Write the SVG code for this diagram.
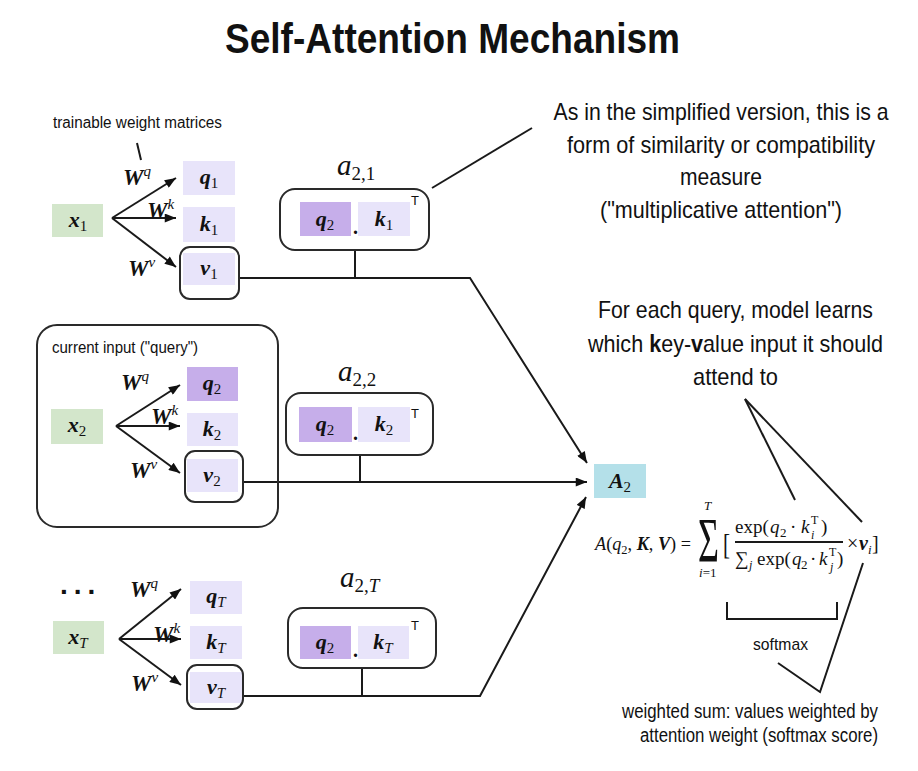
<svg xmlns="http://www.w3.org/2000/svg" width="918" height="771" viewBox="0 0 918 771">
<defs>
<style>
.ln{stroke:#1a1a1a;stroke-width:2;fill:none}
.ob{fill:none;stroke:#2a2a2a;stroke-width:2}
.gx{fill:#d3e6cb}
.lv{fill:#e8e4fa}
.pq{fill:#c6aeea}
.bl{fill:#b4e0e9}
.m{font-family:"Liberation Serif","Times New Roman",serif;fill:#111}
.bi{font-weight:bold;font-style:italic}
.it{font-style:italic}
.s{font-family:"Liberation Sans",Arial,sans-serif;fill:#111}
.v{font-size:22px}
.w{font-size:23px}
.al{font-size:29px}
</style>
<marker id="ah" viewBox="0 0 10 8" refX="10" refY="4" markerWidth="12" markerHeight="9" markerUnits="userSpaceOnUse" orient="auto">
<path d="M0,0 L10,4 L0,8 Z" fill="#111"/>
</marker>
</defs>
<rect width="918" height="771" fill="#fff"/>

<g id="title">
<text class="s" x="452.5" y="53" font-size="43" font-weight="bold" text-anchor="middle" textLength="455" lengthAdjust="spacingAndGlyphs">Self-Attention Mechanism</text>
</g>

<g id="connectors">
<line class="ln" x1="112" y1="218" x2="176" y2="178" marker-end="url(#ah)"/>
<line class="ln" x1="112" y1="218" x2="176" y2="218" marker-end="url(#ah)"/>
<line class="ln" x1="112" y1="218" x2="176" y2="267" marker-end="url(#ah)"/>
<line class="ln" x1="116" y1="426" x2="180" y2="385" marker-end="url(#ah)"/>
<line class="ln" x1="116" y1="426" x2="180" y2="426" marker-end="url(#ah)"/>
<line class="ln" x1="116" y1="426" x2="180" y2="473" marker-end="url(#ah)"/>
<line class="ln" x1="119" y1="639" x2="181" y2="589" marker-end="url(#ah)"/>
<line class="ln" x1="119" y1="639" x2="181" y2="639" marker-end="url(#ah)"/>
<line class="ln" x1="119" y1="639" x2="181" y2="685" marker-end="url(#ah)"/>
<line class="ln" x1="355" y1="250" x2="355" y2="278"/>
<line class="ln" x1="360" y1="455" x2="360" y2="482"/>
<line class="ln" x1="362" y1="668" x2="362" y2="696"/>
<polyline class="ln" points="239,278 470,278 587,463" marker-end="url(#ah)"/>
<line class="ln" x1="243" y1="482" x2="587" y2="482" marker-end="url(#ah)"/>
<polyline class="ln" points="243,696 480,696 586,497" marker-end="url(#ah)"/>
<line class="ln" x1="137" y1="143" x2="141" y2="160" stroke-width="1.6"/>
<line class="ln" x1="432" y1="188" x2="532" y2="128"/>
<line class="ln" x1="745" y1="399" x2="795" y2="500"/>
<line class="ln" x1="745" y1="399" x2="862" y2="522"/>
<polyline class="ln" points="727,602 727,619 837,619 837,602"/>
<polyline class="ln" points="863,563 820,692 778,663"/>
</g>

<g id="note-trainable">
<text class="s" x="53" y="128" font-size="16" textLength="169" lengthAdjust="spacingAndGlyphs">trainable weight matrices</text>
</g>

<!-- Block 1 -->
<g id="x1">
<rect class="gx" x="52" y="204" width="51" height="33"/>
<text class="m v" x="78" y="227" text-anchor="middle"><tspan class="bi">x</tspan><tspan font-size="15" dy="4">1</tspan></text>
</g>
<g id="w1">
<text class="m w" x="123" y="185"><tspan class="bi">W</tspan><tspan class="it" font-size="15" dy="-9">q</tspan></text>
<text class="m w" x="147" y="218"><tspan class="bi">W</tspan><tspan class="it" font-size="15" dy="-9">k</tspan></text>
<text class="m w" x="128" y="276"><tspan class="bi">W</tspan><tspan class="it" font-size="15" dy="-9">v</tspan></text>
</g>
<g id="q1">
<rect class="lv" x="183" y="161" width="52" height="34"/>
<text class="m v" x="209" y="184" text-anchor="middle"><tspan class="bi">q</tspan><tspan font-size="15" dy="4">1</tspan></text>
</g>
<g id="k1">
<rect class="lv" x="183" y="207" width="52" height="35"/>
<text class="m v" x="209" y="231" text-anchor="middle"><tspan class="bi">k</tspan><tspan font-size="15" dy="4">1</tspan></text>
</g>
<g id="v1">
<rect class="lv" x="183" y="253" width="52" height="32"/>
<rect class="ob" x="180" y="247" width="59" height="52" rx="10"/>
<text class="m v" x="209" y="275" text-anchor="middle"><tspan class="bi">v</tspan><tspan font-size="15" dy="4">1</tspan></text>
</g>
<g id="a21">
<text class="m al" x="337" y="175"><tspan class="it">a</tspan><tspan font-size="19" dy="5">2,1</tspan></text>
<rect class="ob" x="280" y="189" width="149" height="61" rx="15"/>
<rect class="pq" x="300" y="202" width="51" height="34"/>
<text class="m v" x="325" y="226" text-anchor="middle"><tspan class="bi">q</tspan><tspan font-size="15" dy="4">2</tspan></text>
<text class="m" x="353" y="234" font-size="20" font-weight="bold">.</text>
<rect class="lv" x="358" y="202" width="52" height="34"/>
<text class="m v" x="384" y="226" text-anchor="middle"><tspan class="bi">k</tspan><tspan font-size="15" dy="4">1</tspan></text>
<text class="s" x="411" y="205" font-size="13">T</text>
</g>

<!-- Block 2 -->
<g id="query-frame">
<rect class="ob" x="37" y="325" width="241" height="202" rx="20"/>
<text class="s" x="52" y="353" font-size="16" textLength="146" lengthAdjust="spacingAndGlyphs">current input ("query")</text>
</g>
<g id="x2">
<rect class="gx" x="51" y="409" width="52" height="35"/>
<text class="m v" x="77" y="432" text-anchor="middle"><tspan class="bi">x</tspan><tspan font-size="15" dy="4">2</tspan></text>
</g>
<g id="w2">
<text class="m w" x="121" y="390"><tspan class="bi">W</tspan><tspan class="it" font-size="15" dy="-9">q</tspan></text>
<text class="m w" x="151" y="424"><tspan class="bi">W</tspan><tspan class="it" font-size="15" dy="-9">k</tspan></text>
<text class="m w" x="130" y="478"><tspan class="bi">W</tspan><tspan class="it" font-size="15" dy="-9">v</tspan></text>
</g>
<g id="q2">
<rect class="pq" x="187" y="367" width="51" height="34"/>
<text class="m v" x="212" y="390" text-anchor="middle"><tspan class="bi">q</tspan><tspan font-size="15" dy="4">2</tspan></text>
</g>
<g id="k2">
<rect class="lv" x="187" y="413" width="51" height="33"/>
<text class="m v" x="212" y="436" text-anchor="middle"><tspan class="bi">k</tspan><tspan font-size="15" dy="4">2</tspan></text>
</g>
<g id="v2">
<rect class="lv" x="187" y="459" width="51" height="33"/>
<rect class="ob" x="185" y="451" width="58" height="51" rx="10"/>
<text class="m v" x="212" y="482" text-anchor="middle"><tspan class="bi">v</tspan><tspan font-size="15" dy="4">2</tspan></text>
</g>
<g id="a22">
<text class="m al" x="338" y="381"><tspan class="it">a</tspan><tspan font-size="19" dy="5">2,2</tspan></text>
<rect class="ob" x="286" y="393" width="147" height="62" rx="15"/>
<rect class="pq" x="299" y="407" width="53" height="35"/>
<text class="m v" x="325" y="431" text-anchor="middle"><tspan class="bi">q</tspan><tspan font-size="15" dy="4">2</tspan></text>
<text class="m" x="353" y="440" font-size="20" font-weight="bold">.</text>
<rect class="lv" x="358" y="407" width="52" height="35"/>
<text class="m v" x="384" y="431" text-anchor="middle"><tspan class="bi">k</tspan><tspan font-size="15" dy="4">2</tspan></text>
<text class="s" x="411" y="418" font-size="13">T</text>
</g>

<!-- Block T -->
<g id="ellipsis">
<text class="s" x="60" y="594" font-size="28" font-weight="bold" letter-spacing="6">...</text>
</g>
<g id="xT">
<rect class="gx" x="53" y="621" width="51" height="33"/>
<text class="m v" x="78" y="644" text-anchor="middle"><tspan class="bi">x</tspan><tspan class="it" font-size="15" dy="4">T</tspan></text>
</g>
<g id="wT">
<text class="m w" x="130" y="597"><tspan class="bi">W</tspan><tspan class="it" font-size="15" dy="-9">q</tspan></text>
<text class="m w" x="153" y="642"><tspan class="bi">W</tspan><tspan class="it" font-size="15" dy="-9">k</tspan></text>
<text class="m w" x="131" y="691"><tspan class="bi">W</tspan><tspan class="it" font-size="15" dy="-9">v</tspan></text>
</g>
<g id="qT">
<rect class="lv" x="190" y="581" width="52" height="33"/>
<text class="m v" x="216" y="603" text-anchor="middle"><tspan class="bi">q</tspan><tspan class="it" font-size="15" dy="4">T</tspan></text>
</g>
<g id="kT">
<rect class="lv" x="190" y="626" width="52" height="33"/>
<text class="m v" x="216" y="649" text-anchor="middle"><tspan class="bi">k</tspan><tspan class="it" font-size="15" dy="4">T</tspan></text>
</g>
<g id="vT">
<rect class="lv" x="190" y="672" width="52" height="31"/>
<rect class="ob" x="187" y="665" width="56" height="44" rx="10"/>
<text class="m v" x="216" y="694" text-anchor="middle"><tspan class="bi">v</tspan><tspan class="it" font-size="15" dy="4">T</tspan></text>
</g>
<g id="a2T">
<text class="m al" x="340" y="587"><tspan class="it">a</tspan><tspan font-size="19" dy="5">2,</tspan><tspan class="it" font-size="19">T</tspan></text>
<rect class="ob" x="288" y="608" width="148" height="60" rx="15"/>
<rect class="pq" x="300" y="626" width="51" height="33"/>
<text class="m v" x="325" y="649" text-anchor="middle"><tspan class="bi">q</tspan><tspan font-size="15" dy="4">2</tspan></text>
<text class="m" x="353" y="657" font-size="20" font-weight="bold">.</text>
<rect class="lv" x="358" y="626" width="51" height="33"/>
<text class="m v" x="383" y="649" text-anchor="middle"><tspan class="bi">k</tspan><tspan class="it" font-size="15" dy="4">T</tspan></text>
<text class="s" x="411" y="630" font-size="13">T</text>
</g>

<!-- Output -->
<g id="A2">
<rect class="bl" x="594" y="464" width="52" height="34"/>
<text class="m v" x="620" y="488" text-anchor="middle"><tspan class="bi">A</tspan><tspan font-size="15" dy="4">2</tspan></text>
</g>

<g id="formula">
<text class="m" x="595" y="550" font-size="19" textLength="96" lengthAdjust="spacingAndGlyphs"><tspan class="it">A</tspan>(<tspan class="it">q</tspan><tspan font-size="13" dy="4">2</tspan><tspan dy="-4">, </tspan><tspan class="bi">K</tspan>, <tspan class="bi">V</tspan>) =</text>
<text class="m" x="698" y="562" font-size="64" textLength="21" lengthAdjust="spacingAndGlyphs">Σ</text>
<text class="m it" x="704" y="510" font-size="13">T</text>
<text class="m" x="699" y="577" font-size="13"><tspan class="it">i</tspan>=1</text>
<text class="m" x="723" y="554" font-size="30" textLength="7" lengthAdjust="spacingAndGlyphs">[</text>
<text class="m" y="533" font-size="19"><tspan x="735">exp(</tspan><tspan class="it" x="770">q</tspan><tspan x="780" dy="4" font-size="13">2</tspan><tspan x="790" dy="-4">·</tspan><tspan class="it" x="801">k</tspan><tspan x="811" dy="-9" font-size="12">T</tspan><tspan class="it" x="811" dy="15" font-size="12">i</tspan><tspan x="821" dy="-6">)</tspan></text>
<line class="ln" x1="735" y1="542" x2="843" y2="542" stroke-width="1.6"/>
<text class="m" y="565" font-size="19"><tspan x="735">∑</tspan><tspan class="it" x="749" dy="4" font-size="12">j</tspan><tspan x="757" dy="-4">exp(</tspan><tspan class="it" x="792">q</tspan><tspan x="801" dy="4" font-size="13">2</tspan><tspan x="810" dy="-4">·</tspan><tspan class="it" x="819">k</tspan><tspan x="829" dy="-9" font-size="12">T</tspan><tspan class="it" x="830" dy="15" font-size="12">j</tspan><tspan x="837" dy="-6">)</tspan></text>
<text class="m" y="550" font-size="20"><tspan x="847">×</tspan><tspan class="bi" x="859">v</tspan><tspan class="it" x="868" dy="4" font-size="13">i</tspan><tspan x="872" dy="-4">]</tspan></text>
</g>

<g id="note-similarity">
<text class="s" x="721" y="120" font-size="24" text-anchor="middle" textLength="335" lengthAdjust="spacingAndGlyphs">As in the simplified version, this is a</text>
<text class="s" x="721" y="153" font-size="24" text-anchor="middle" textLength="308" lengthAdjust="spacingAndGlyphs">form of similarity or compatibility</text>
<text class="s" x="721" y="185" font-size="24" text-anchor="middle" textLength="82" lengthAdjust="spacingAndGlyphs">measure</text>
<text class="s" x="721" y="218" font-size="24" text-anchor="middle" textLength="242" lengthAdjust="spacingAndGlyphs">("multiplicative attention")</text>
</g>

<g id="note-keyvalue">
<text class="s" x="735.5" y="318" font-size="24" text-anchor="middle" textLength="275" lengthAdjust="spacingAndGlyphs">For each query, model learns</text>
<text class="s" x="735.5" y="352" font-size="24" text-anchor="middle" textLength="295" lengthAdjust="spacingAndGlyphs">which <tspan font-weight="bold">k</tspan>ey-<tspan font-weight="bold">v</tspan>alue input it should</text>
<text class="s" x="735.5" y="385" font-size="24" text-anchor="middle" textLength="85" lengthAdjust="spacingAndGlyphs">attend to</text>
</g>

<g id="note-softmax">
<text class="s" x="753" y="650" font-size="17" textLength="55" lengthAdjust="spacingAndGlyphs">softmax</text>
</g>

<g id="note-weighted">
<text class="s" x="878" y="718" font-size="20" text-anchor="end" textLength="256" lengthAdjust="spacingAndGlyphs">weighted sum: values weighted by</text>
<text class="s" x="878" y="742" font-size="20" text-anchor="end" textLength="238" lengthAdjust="spacingAndGlyphs">attention weight (softmax score)</text>
</g>
</svg>
